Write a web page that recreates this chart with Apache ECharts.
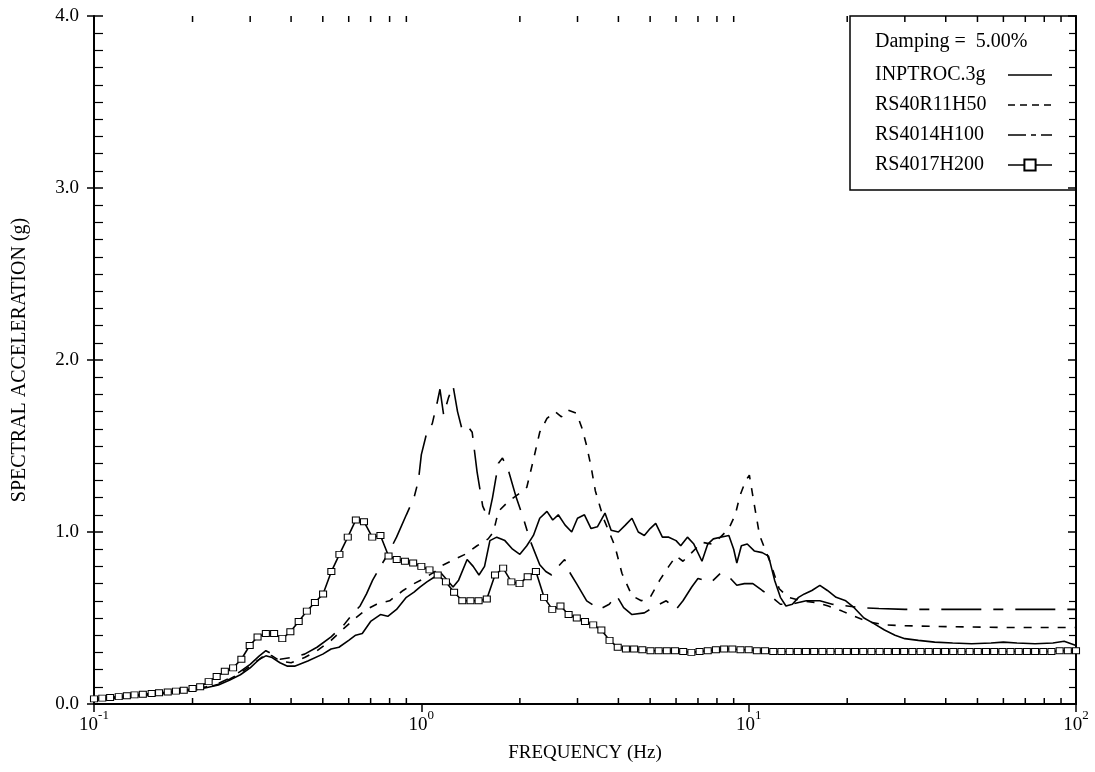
<!DOCTYPE html>
<html><head><meta charset="utf-8">
<script src="https://cdn.jsdelivr.net/npm/echarts@6/dist/echarts.min.js"></script>
<style>html,body{margin:0;padding:0;background:#fff}#c{width:1095px;height:772px}</style>
</head><body><div id="c"></div>
<script>
// ---- data (frequency Hz, spectral acceleration g) ----
const seriesNames = ['INPTROC.3g', 'RS40R11H50', 'RS4014H100', 'RS4017H200'];
const dampingText = 'Damping =  5.00%';

const inptroc = [[0.1,0.02],[0.12,0.035],[0.14,0.05],[0.16,0.06],[0.18,0.07],[0.2,0.08],[0.22,0.095],[0.24,0.11],[0.26,0.14],[0.28,0.17],[0.3,0.21],[0.32,0.26],[0.335,0.28],[0.35,0.27],[0.37,0.24],[0.39,0.22],[0.41,0.22],[0.45,0.25],[0.5,0.29],[0.53,0.32],[0.56,0.33],[0.6,0.37],[0.63,0.4],[0.66,0.41],[0.7,0.48],[0.75,0.52],[0.79,0.51],[0.84,0.55],[0.9,0.62],[0.95,0.65],[0.99,0.68],[1.04,0.71],[1.1,0.74],[1.15,0.76],[1.2,0.72],[1.25,0.68],[1.3,0.72],[1.38,0.84],[1.44,0.8],[1.5,0.75],[1.56,0.8],[1.62,0.95],[1.7,0.97],[1.8,0.95],[1.9,0.9],[2.0,0.87],[2.1,0.92],[2.2,0.98],[2.3,1.08],[2.42,1.12],[2.52,1.07],[2.62,1.1],[2.75,1.04],[2.88,1.0],[3.0,1.08],[3.15,1.1],[3.3,1.02],[3.45,1.03],[3.64,1.11],[3.8,1.01],[4.0,1.0],[4.2,1.04],[4.4,1.08],[4.6,1.0],[4.8,0.98],[5.0,1.02],[5.2,1.05],[5.45,0.97],[5.7,0.97],[6.0,0.95],[6.2,0.92],[6.5,0.97],[6.8,0.93],[7.2,0.83],[7.5,0.93],[7.8,0.96],[8.2,0.97],[8.7,0.98],[9.0,0.9],[9.2,0.82],[9.5,0.92],[9.9,0.93],[10.4,0.89],[11.0,0.88],[11.5,0.86],[12.0,0.72],[12.5,0.62],[13.0,0.57],[13.6,0.58],[14.2,0.62],[14.8,0.64],[15.6,0.66],[16.5,0.69],[17.4,0.66],[18.5,0.62],[19.8,0.6],[21,0.56],[22.5,0.5],[24,0.47],[26,0.43],[28,0.4],[30,0.38],[33,0.37],[37,0.36],[42,0.355],[48,0.35],[55,0.355],[60,0.36],[66,0.355],[75,0.35],[85,0.355],[92,0.365],[100,0.34]];

const rs40r11h50 = [[0.1,0.025],[0.12,0.04],[0.14,0.05],[0.16,0.06],[0.18,0.07],[0.2,0.08],[0.22,0.095],[0.24,0.115],[0.26,0.145],[0.28,0.18],[0.3,0.22],[0.32,0.26],[0.335,0.29],[0.35,0.28],[0.37,0.25],[0.4,0.24],[0.44,0.27],[0.48,0.31],[0.53,0.37],[0.58,0.44],[0.63,0.5],[0.68,0.55],[0.73,0.58],[0.8,0.6],[0.88,0.66],[0.95,0.7],[1.02,0.73],[1.1,0.77],[1.17,0.81],[1.26,0.84],[1.36,0.87],[1.48,0.92],[1.6,0.96],[1.66,1.0],[1.72,1.12],[1.85,1.18],[1.98,1.22],[2.1,1.26],[2.2,1.42],[2.3,1.58],[2.42,1.66],[2.56,1.7],[2.68,1.67],[2.8,1.71],[2.98,1.69],[3.1,1.6],[3.2,1.5],[3.3,1.38],[3.4,1.24],[3.6,1.08],[3.9,0.92],[4.1,0.76],[4.4,0.63],[4.7,0.6],[5.0,0.62],[5.35,0.72],[5.7,0.8],[6.0,0.86],[6.3,0.83],[6.7,0.88],[7.2,0.94],[7.7,0.93],[8.2,0.97],[8.7,1.02],[9.1,1.1],[9.4,1.21],[9.8,1.3],[10.05,1.33],[10.4,1.16],[10.8,0.98],[11.6,0.83],[12.4,0.67],[13.2,0.62],[14.5,0.6],[16,0.59],[17.5,0.57],[19.3,0.54],[21,0.51],[23,0.48],[26,0.46],[30,0.455],[40,0.45],[60,0.445],[100,0.445]];

const rs4014h100 = [[0.1,0.03],[0.12,0.04],[0.14,0.055],[0.16,0.065],[0.18,0.075],[0.2,0.085],[0.22,0.1],[0.24,0.12],[0.26,0.15],[0.28,0.19],[0.3,0.23],[0.32,0.28],[0.335,0.31],[0.35,0.29],[0.37,0.26],[0.4,0.27],[0.44,0.29],[0.48,0.33],[0.53,0.39],[0.58,0.46],[0.62,0.53],[0.65,0.57],[0.68,0.64],[0.71,0.72],[0.75,0.8],[0.79,0.87],[0.84,0.97],[0.9,1.1],[0.95,1.2],[0.98,1.3],[1.0,1.45],[1.04,1.58],[1.08,1.63],[1.12,1.76],[1.14,1.83],[1.17,1.68],[1.21,1.78],[1.25,1.85],[1.29,1.7],[1.33,1.6],[1.38,1.62],[1.43,1.58],[1.48,1.35],[1.54,1.15],[1.6,1.08],[1.65,1.2],[1.72,1.4],[1.77,1.43],[1.85,1.35],[1.95,1.2],[2.05,1.08],[2.15,0.95],[2.3,0.81],[2.4,0.77],[2.5,0.75],[2.62,0.8],[2.74,0.84],[2.85,0.76],[2.98,0.7],[3.2,0.6],[3.5,0.55],[3.75,0.58],[3.95,0.63],[4.15,0.56],[4.4,0.52],[4.8,0.53],[5.2,0.57],[5.6,0.6],[6.0,0.55],[6.3,0.6],[6.7,0.68],[7.0,0.73],[7.3,0.72],[7.7,0.71],[8.2,0.76],[8.7,0.74],[9.2,0.69],[9.7,0.7],[10.3,0.7],[11.0,0.66],[11.8,0.62],[12.5,0.58],[13.5,0.58],[15,0.6],[16.5,0.6],[18,0.58],[20,0.57],[22,0.56],[25,0.555],[30,0.55],[40,0.55],[60,0.55],[100,0.55]];

const rs4017h200 = [[0.1,0.03],[0.106,0.034],[0.112,0.038],[0.119,0.043],[0.126,0.048],[0.133,0.053],[0.141,0.057],[0.15,0.061],[0.158,0.065],[0.168,0.07],[0.178,0.075],[0.188,0.08],[0.2,0.09],[0.211,0.1],[0.224,0.13],[0.237,0.16],[0.251,0.19],[0.266,0.21],[0.282,0.26],[0.299,0.34],[0.316,0.39],[0.335,0.41],[0.355,0.41],[0.376,0.38],[0.398,0.42],[0.422,0.48],[0.447,0.54],[0.473,0.59],[0.501,0.64],[0.531,0.77],[0.562,0.87],[0.596,0.97],[0.631,1.07],[0.668,1.06],[0.708,0.97],[0.75,0.98],[0.794,0.86],[0.841,0.84],[0.891,0.83],[0.944,0.82],
[1.0,0.8],[1.059,0.78],[1.122,0.75],[1.189,0.71],[1.259,0.65],[1.334,0.6],[1.413,0.6],[1.496,0.6],[1.585,0.61],[1.679,0.75],[1.778,0.79],[1.884,0.71],[1.995,0.7],[2.113,0.74],[2.239,0.77],[2.371,0.62],[2.512,0.55],[2.661,0.57],[2.818,0.52],[2.985,0.5],[3.162,0.48],[3.35,0.46],[3.548,0.43],[3.758,0.37],[3.981,0.33],[4.217,0.32],[4.467,0.32],[4.732,0.315],[5.012,0.31],[5.309,0.31],[5.623,0.31],[5.957,0.31],[6.31,0.305],[6.683,0.3],[7.079,0.305],[7.499,0.31],[7.943,0.315],[8.414,0.32],[8.913,0.32],[9.441,0.315],
[10,0.315],[10.59,0.31],[11.22,0.31],[11.89,0.305],[12.59,0.305],[13.34,0.305],[14.13,0.305],[14.96,0.305],[15.85,0.305],[16.79,0.305],[17.78,0.305],[18.84,0.305],[19.95,0.305],[21.13,0.305],[22.39,0.305],[23.71,0.305],[25.12,0.305],[26.61,0.305],[28.18,0.305],[29.85,0.305],[31.62,0.305],[33.5,0.305],[35.48,0.305],[37.58,0.305],[39.81,0.305],[42.17,0.305],[44.67,0.305],[47.32,0.305],[50.12,0.305],[53.09,0.305],[56.23,0.305],[59.57,0.305],[63.1,0.305],[66.83,0.305],[70.79,0.305],[74.99,0.305],[79.43,0.305],[84.14,0.305],[89.13,0.31],[94.41,0.31],[100,0.31]];

const xTickVals = [0.1, 1, 10, 100];
const xTickExp = ['-1', '0', '1', '2'];
const xMinorTickVals = [0.2,0.3,0.4,0.5,0.6,0.7,0.8,0.9,2,3,4,5,6,7,8,9,20,30,40,50,60,70,80,90];
const yTickLabels = ['0.0', '1.0', '2.0', '3.0', '4.0'];

// ---- chart ----
const FONT = 'Liberation Serif';
const FS = 19;
const BLACK = '#000';
const dashShort = [8, 9];
const dashLong = [40, 12, 10, 12];

const chart = echarts.init(document.getElementById('c'), null, {renderer: 'canvas'});

const lineBase = {type: 'line', showSymbol: false, symbol: 'none', smooth: false, animation: false, z: 3,
  color: BLACK};
const hiddenSymbol = {color: 'rgba(0,0,0,0)', borderColor: 'rgba(0,0,0,0)', borderWidth: 0, opacity: 0};

const option = {
  backgroundColor: '#fff',
  animation: false,
  grid: {left: 94, right: 19, top: 16, bottom: 68, containLabel: false},
  xAxis: [
    {type: 'log', logBase: 10, min: 0.1, max: 100, position: 'bottom',
     name: 'FREQUENCY (Hz)', nameLocation: 'middle', nameGap: 40,
     nameTextStyle: {fontFamily: FONT, fontSize: FS, color: BLACK},
     axisLine: {show: true, lineStyle: {color: BLACK, width: 2}},
     axisTick: {show: true, inside: false, length: 6, lineStyle: {color: BLACK, width: 1.5}},
     splitLine: {show: false}, minorTick: {show: false},
     axisLabel: {margin: 5, color: BLACK,
       formatter: function (v) {
         const i = xTickVals.findIndex(t => Math.abs(t - v) / t < 1e-6);
         return i < 0 ? '' : '{b|10}{s|' + xTickExp[i] + '}';
       },
       rich: {b: {fontFamily: FONT, fontSize: FS, color: BLACK, lineHeight: 26, verticalAlign: 'bottom'},
              s: {fontFamily: FONT, fontSize: 13, color: BLACK, lineHeight: 26, verticalAlign: 'top'}}}},
    {type: 'log', logBase: 10, min: 0.1, max: 100, position: 'top',
     axisLine: {show: true, lineStyle: {color: BLACK, width: 2}},
     axisTick: {show: true, inside: true, length: 8, lineStyle: {color: BLACK, width: 1.5}},
     axisLabel: {show: false}, splitLine: {show: false}}
  ],
  yAxis: [
    {type: 'value', min: 0, max: 4, interval: 1, position: 'left',
     name: 'SPECTRAL ACCELERATION (g)', nameLocation: 'middle', nameGap: 64, nameRotate: 90,
     nameTextStyle: {fontFamily: FONT, fontSize: 20, color: BLACK},
     axisLine: {show: true, lineStyle: {color: BLACK, width: 2}},
     axisTick: {show: true, inside: true, length: 9, lineStyle: {color: BLACK, width: 1.5}},
     minorTick: {show: true, splitNumber: 10, length: 9, lineStyle: {color: BLACK, width: 1.2}},
     splitLine: {show: false},
     axisLabel: {margin: 15, color: BLACK, fontFamily: FONT, fontSize: FS,
       formatter: function (v) { return yTickLabels[Math.round(v)] || ''; }}},
    {type: 'value', min: 0, max: 4, interval: 1, position: 'right',
     axisLine: {show: true, lineStyle: {color: BLACK, width: 2}},
     axisTick: {show: true, inside: true, length: 8, lineStyle: {color: BLACK, width: 1.5}},
     minorTick: {show: true, splitNumber: 10, length: 7, lineStyle: {color: BLACK, width: 1.2}},
     axisLabel: {show: false}, splitLine: {show: false}},
    {type: 'value', min: 0, max: 4, interval: 1, position: 'left', offset: 0,
     axisLine: {show: false},
     axisTick: {show: true, inside: false, length: 7, lineStyle: {color: BLACK, width: 1.5}},
     axisLabel: {show: false}, splitLine: {show: false}}
  ],
  legend: {
    orient: 'vertical', left: 870, top: 60, itemGap: 10, itemWidth: 44, itemHeight: 14,
    align: 'right',
    formatter: function (name) { return '{t|' + name + '}'; },
    textStyle: {fontFamily: FONT, fontSize: 20, color: BLACK,
      rich: {t: {fontFamily: FONT, fontSize: 20, color: BLACK, width: 128, align: 'left'}}},
    data: [
      {name: seriesNames[0], lineStyle: {type: 'solid', width: 1.5}, itemStyle: hiddenSymbol},
      {name: seriesNames[1], lineStyle: {type: [7, 5], width: 1.5}, itemStyle: hiddenSymbol},
      {name: seriesNames[2], lineStyle: {type: [18, 5, 5, 5], width: 1.5}, itemStyle: hiddenSymbol},
      {name: seriesNames[3], lineStyle: {width: 1.5}}
    ]
  },
  graphic: [
    {type: 'rect', shape: {x: 850, y: 16, width: 226, height: 174}, style: {fill: 'none', stroke: BLACK, lineWidth: 1.5}, z: 10},
    {type: 'text', left: 875, top: 32, style: {text: dampingText, fontFamily: FONT, fontSize: 20, fill: BLACK}, z: 10}
  ],
  series: [
    Object.assign({}, lineBase, {name: seriesNames[0], data: inptroc,
      lineStyle: {color: BLACK, width: 1.6, type: 'solid'}}),
    Object.assign({}, lineBase, {name: seriesNames[1], data: rs40r11h50,
      lineStyle: {color: BLACK, width: 1.6, type: dashShort}}),
    Object.assign({}, lineBase, {name: seriesNames[2], data: rs4014h100,
      lineStyle: {color: BLACK, width: 1.6, type: dashLong}}),
    {type: 'line', name: seriesNames[3], data: rs4017h200, animation: false, z: 4,
     showSymbol: true, symbol: 'rect', symbolSize: [7, 6], color: BLACK,
     itemStyle: {color: '#fff', borderColor: BLACK, borderWidth: 1},
     lineStyle: {color: BLACK, width: 1.6}},
    {type: 'custom', xAxisIndex: 0, yAxisIndex: 0, silent: true, clip: false, z: 5,
     data: xMinorTickVals.map(v => [v, 0]),
     renderItem: function (params, api) {
       const b = api.coord([api.value(0), 0]);
       const t = api.coord([api.value(0), 4]);
       return {type: 'group', children: [
         {type: 'line', shape: {x1: b[0], y1: b[1], x2: b[0], y2: b[1] - 6}, style: {stroke: BLACK, lineWidth: 1.5}},
         {type: 'line', shape: {x1: t[0], y1: t[1], x2: t[0], y2: t[1] + 6}, style: {stroke: BLACK, lineWidth: 1.5}}
       ]};
     }}
  ]
};
chart.setOption(option);
</script>
</body></html>
